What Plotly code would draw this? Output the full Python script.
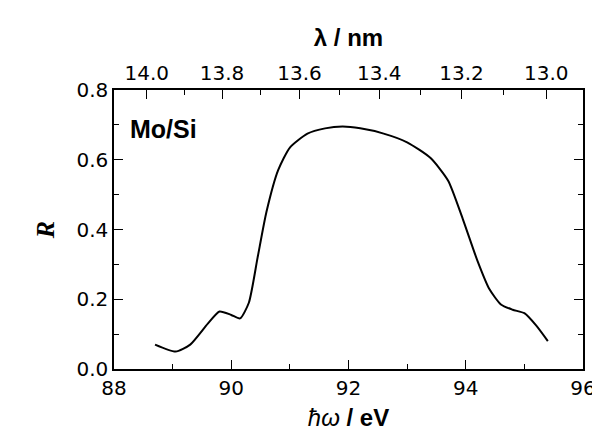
import plotly.graph_objects as go

# photon energy (eV) and reflectivity
energy = [88.7, 89.05, 89.3, 89.6, 89.8, 90.0, 90.15, 90.3, 90.45, 90.6, 90.8, 91.0, 91.3, 91.6,
          91.9, 92.2, 92.6, 93.0, 93.4, 93.7, 93.95, 94.2, 94.4, 94.6, 94.8, 95.0, 95.2, 95.4]
refl = [0.07, 0.05, 0.07, 0.13, 0.165, 0.155, 0.145, 0.19, 0.32, 0.45, 0.57, 0.635, 0.675, 0.69,
        0.695, 0.69, 0.675, 0.65, 0.605, 0.54, 0.43, 0.31, 0.23, 0.185, 0.17, 0.16, 0.125, 0.08]

wavelengths = [14.0, 13.8, 13.6, 13.4, 13.2, 13.0]
minor_wl = [13.9, 13.7, 13.5, 13.3, 13.1]
HC = 1239.84

font = dict(family="DejaVu Sans, Liberation Sans", size=20, color="black")
title_font = dict(family="Liberation Sans", size=24, color="black")

fig = go.Figure()
fig.add_trace(go.Scatter(x=energy, y=refl, mode="lines",
                         line=dict(color="black", width=2, shape="spline", smoothing=0.6)))
# invisible trace to activate the top and right axes
fig.add_trace(go.Scatter(x=[88, 96], y=[0, 0], xaxis="x2", yaxis="y2", mode="lines",
                         line=dict(width=0), hoverinfo="skip"))

axis_common = dict(showgrid=False, zeroline=False, ticks="inside", ticklen=9, tickwidth=1.2,
                   tickcolor="black", linecolor="black", linewidth=1.5, tickfont=font,
                   showline=True)
yminor = dict(ticks="inside", ticklen=5, tickcolor="black", dtick=0.1)

fig.update_layout(
    width=600, height=447, showlegend=False,
    plot_bgcolor="white", paper_bgcolor="white",
    margin=dict(l=106, r=19, t=82, b=86),
    xaxis=dict(range=[88, 96], tickvals=[88, 90, 92, 94, 96],
               minor=dict(ticks="inside", ticklen=5, tickcolor="black", dtick=1),
               title=dict(text="<i>ħω</i> <b>/ eV</b>", font=title_font, standoff=10),
               **axis_common),
    xaxis2=dict(range=[88, 96], overlaying="x", side="top",
                tickvals=[HC / w for w in wavelengths],
                ticktext=[f"{w:.1f}" for w in wavelengths],
                minor=dict(ticks="inside", ticklen=5, tickcolor="black",
                           tickvals=[HC / w for w in minor_wl]),
                title=dict(text="<b>λ / nm</b>", font=title_font, standoff=8),
                **axis_common),
    yaxis=dict(range=[0, 0.8], tickvals=[0, 0.2, 0.4, 0.6, 0.8], tickformat=".1f",
               minor=yminor,
               title=dict(text="<b><i>R</i></b>",
                          font=dict(family="Liberation Serif", size=26, color="black"),
                          standoff=14),
               **axis_common),
    yaxis2=dict(range=[0, 0.8], overlaying="y", side="right",
                tickvals=[0, 0.2, 0.4, 0.6, 0.8], showticklabels=False,
                minor=yminor, **axis_common),
)
fig.add_annotation(x=0.03, y=0.86, xref="paper", yref="paper", text="<b>Mo/Si</b>",
                   showarrow=False, xanchor="left", yanchor="middle",
                   font=dict(family="Liberation Sans", size=25, color="black"))

fig.write_html("out.html")
